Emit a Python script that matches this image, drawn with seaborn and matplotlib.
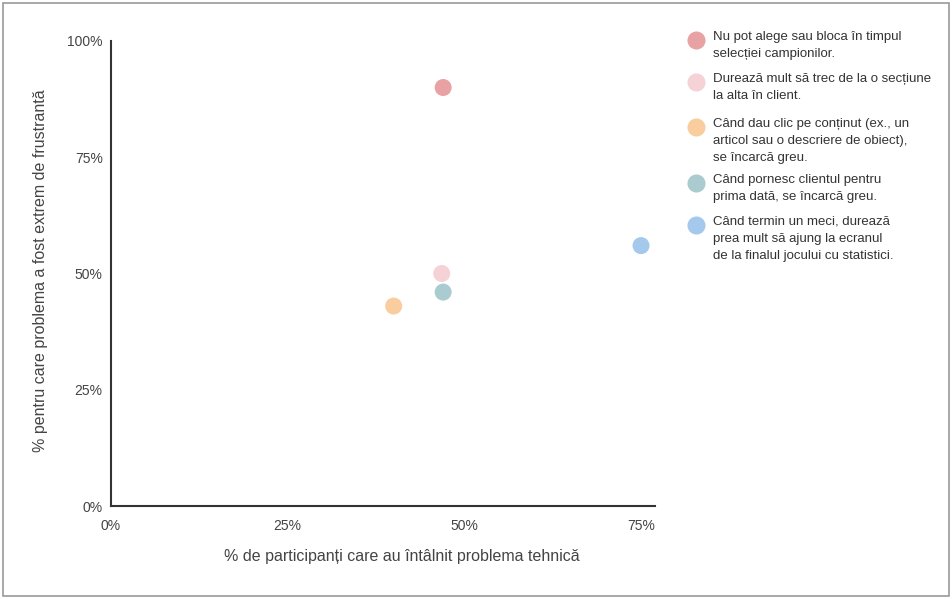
import matplotlib
matplotlib.use("Agg")
import matplotlib.pyplot as plt
import seaborn as sns
import pandas as pd
from matplotlib.patches import Rectangle
from matplotlib.lines import Line2D

# data
problems = [
    "Nu pot alege sau bloca în timpul\nselecției campionilor.",
    "Durează mult să trec de la o secțiune\nla alta în client.",
    "Când dau clic pe conținut (ex., un\narticol sau o descriere de obiect),\nse încarcă greu.",
    "Când pornesc clientul pentru\nprima dată, se încarcă greu.",
    "Când termin un meci, durează\nprea mult să ajung la ecranul\nde la finalul jocului cu statistici.",
]
encountered = [0.47, 0.468, 0.40, 0.47, 0.75]
frustrated = [0.90, 0.50, 0.43, 0.46, 0.56]
colors = ["#E9A2A3", "#F5D2D5", "#F9CD9D", "#AACBCF", "#A4C9EC"]

x_ticks = [0, 0.25, 0.5, 0.75]
y_ticks = [0, 0.25, 0.5, 0.75, 1.0]

df = pd.DataFrame({"problem": problems, "x": encountered, "y": frustrated})

sns.set_style("white")
plt.rcParams["font.family"] = ["Liberation Sans", "DejaVu Sans"]

fig = plt.figure(figsize=(9.53, 5.99), dpi=100)
ax = fig.add_axes([111 / 953, 1 - 506 / 599, (655 - 111) / 953, (506 - 41) / 599])

sns.scatterplot(data=df, x="x", y="y", hue="problem", palette=colors,
                s=150, linewidth=0, legend=False, ax=ax, zorder=3)

ax.set_xlim(0, 544 / 706.7)
ax.set_ylim(0, 1.0)
ax.set_xticks(x_ticks)
ax.set_xticklabels([f"{int(t * 100)}%" for t in x_ticks])
ax.set_yticks(y_ticks)
ax.set_yticklabels([f"{int(t * 100)}%" for t in y_ticks])
ax.tick_params(axis="both", length=0, labelsize=10, colors="#444444")
ax.tick_params(axis="x", pad=9)
ax.tick_params(axis="y", pad=6)

for side in ["top", "right"]:
    ax.spines[side].set_visible(False)
for side in ["left", "bottom"]:
    ax.spines[side].set_color("#333333")
    ax.spines[side].set_linewidth(1.5)

ax.set_xlabel("% de participanți care au întâlnit problema tehnică",
              fontsize=11.5, color="#444444")
ax.set_ylabel("% pentru care problema a fost extrem de frustrantă",
              fontsize=11.5, color="#444444")
ax.xaxis.set_label_coords(0.535, -0.108)
ax.yaxis.set_label_coords(-0.13, 0.507)
ax.xaxis.label.set_va("center")
ax.yaxis.label.set_va("center")

# legend drawn by hand, marker aligned with first text line
marker_y = [40, 82, 127, 183, 225]
for lab, col, my in zip(problems, colors, marker_y):
    fig.add_artist(Line2D([696 / 953], [1 - my / 599], marker="o", markersize=12,
                          color=col, linestyle="none", transform=fig.transFigure))
    fig.text(713 / 953, 1 - (my - 9) / 599, lab, fontsize=9.5, color="#333333",
             va="top", ha="left", linespacing=1.55)

# frame around the figure
fig.add_artist(Rectangle((3 / 953, 3 / 599), 946 / 953, 593 / 599, fill=False,
                         edgecolor="#9a9a9a", linewidth=1.2, transform=fig.transFigure))

fig.savefig("out.png", dpi=100)
